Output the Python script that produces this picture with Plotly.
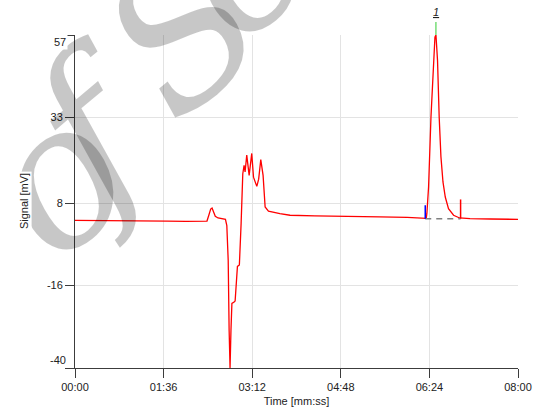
import plotly.graph_objects as go

# ---- data ----
time_s = [0, 20, 40, 60, 80, 100, 120, 135, 143, 145, 147, 148.5, 150, 152, 155, 160, 163,
          164.5, 166, 167, 168, 169, 170, 172.4, 173.5, 176, 178.1, 180, 181.8, 183.2, 184.3,
          186.1, 188.7, 191.5, 193.4, 197, 199, 201.3, 203.8, 206, 209.6, 222, 233, 260, 290,
          330, 360, 378, 380.6, 381.3, 383.1, 385.7, 387.9, 390.0, 391.1, 392.8, 394.6, 396.5,
          398.7, 401.2, 404.7, 410.2, 416.7, 428, 450, 480]
signal_mv = [3.0, 3.0, 2.9, 3.0, 2.9, 2.8, 2.7, 2.8, 2.8, 4.5, 6.3, 6.6, 5.5, 4.2, 3.7, 3.5, 3.3,
             1.5, -8.6, -29, -40, -29, -21.2, -20.8, -20.5, -10.4, -10.0, 2.2, 16.6, 19.0, 17.1,
             22.0, 16.1, 22.5, 15.6, 12.9, 15.0, 20.7, 16.1, 6.9, 5.7, 5.0, 4.5, 4.3, 4.1,
             4.0, 3.9, 3.8, 3.6, 5.1, 12.7, 33.1, 47.7, 56.4, 57.0, 49.6, 33.1, 21.5,
             14.2, 9.8, 6.4, 4.5, 3.7, 3.5, 3.4, 3.3]

peak_label = "1"
peak_time = 391.1
peak_start = 379.5
peak_end = 417.8
baseline_level = 3.5
start_mark_top = 7.4
end_mark_top = 9.1

x_tickvals = [0, 96, 192, 288, 384, 480]
x_ticktext = ["00:00", "01:36", "03:12", "04:48", "06:24", "08:00"]
y_tickvals = [-40, -16, 8, 33, 57]
y_ticktext = ["-40", "-16", "8", "33", "57"]

# watermark letters and their (paper) positions
wm_letters = ["o", "f", "S", "c"]
wm_x = [-0.045, 0.043, 0.244, 0.363]
wm_y = [0.569, 0.720, 1.011, 1.218]

AX = "#3c3c3c"
GRID = "#e3e3e3"
FONT = "Liberation Sans"

fig = go.Figure()
fig.add_trace(go.Scatter(x=time_s, y=signal_mv, mode="lines",
                         line=dict(color="#ff0000", width=1.3), hoverinfo="skip"))
# integration baseline
fig.add_trace(go.Scatter(x=[peak_start, peak_end], y=[baseline_level, baseline_level], mode="lines",
                         line=dict(color="#808080", width=1.5, dash="6px,5px"), hoverinfo="skip"))
# peak start / end markers
fig.add_trace(go.Scatter(x=[peak_start, peak_start], y=[baseline_level, start_mark_top], mode="lines",
                         line=dict(color="#0000ff", width=1.5), hoverinfo="skip"))
fig.add_trace(go.Scatter(x=[peak_end, peak_end], y=[baseline_level, end_mark_top], mode="lines",
                         line=dict(color="#ff0000", width=1.5), hoverinfo="skip"))

# peak apex marker
fig.add_shape(type="line", xref="x", yref="paper", x0=peak_time, x1=peak_time, y0=1, y1=1.039,
              line=dict(color="#33cc33", width=1))

annotations = []
for ch, wx, wy in zip(wm_letters, wm_x, wm_y):
    annotations.append(dict(
        text=ch, xref="paper", yref="paper", x=wx, y=wy,
        xanchor="center", yanchor="middle", showarrow=False, textangle=-40,
        font=dict(family="DejaVu Serif", size=195, style="italic", weight="normal",
                  color="rgba(0,0,0,0.22)")))

annotations += [
    # y-axis title
    dict(text="Signal [mV]", xref="paper", yref="paper", x=-0.116, y=0.5, textangle=-90,
         xanchor="center", yanchor="middle", showarrow=False, bgcolor="white",
         font=dict(family=FONT, size=11, color="#222")),
    # extreme y tick labels (shifted inwards as in reference)
    dict(text=y_ticktext[-1], xref="paper", yref="y", x=0, y=y_tickvals[-1], xanchor="right",
         yanchor="middle", xshift=-7, yshift=-7, showarrow=False, bgcolor="white",
         font=dict(family=FONT, size=11, color="#222")),
    dict(text=y_ticktext[0], xref="paper", yref="y", x=0, y=y_tickvals[0], xanchor="right",
         yanchor="middle", xshift=-7, yshift=8, showarrow=False,
         font=dict(family=FONT, size=11, color="#222")),
    # peak label
    dict(text="<u><i>" + peak_label + "</i></u>", xref="x", yref="paper", x=peak_time, y=1,
         xanchor="center", yanchor="bottom", yshift=15, showarrow=False,
         font=dict(family=FONT, size=11, color="#222")),
]

fig.update_layout(
    width=535, height=410,
    margin=dict(l=75, r=17, t=35, b=42),
    paper_bgcolor="white", plot_bgcolor="white",
    showlegend=False,
    annotations=annotations,
    xaxis=dict(range=[0, 480], tickvals=x_tickvals, ticktext=x_ticktext,
               showgrid=True, gridcolor=GRID, gridwidth=1, zeroline=False,
               showline=True, linecolor=AX, linewidth=1,
               ticks="outside", ticklen=9, tickcolor=AX, tickwidth=1,
               tickfont=dict(family=FONT, size=11, color="#222"),
               title=dict(text="Time [mm:ss]", font=dict(family=FONT, size=11, color="#222"), standoff=5),
               automargin=False, fixedrange=True),
    yaxis=dict(range=[-40, 57], tickvals=y_tickvals,
               ticktext=[""] + y_ticktext[1:-1] + [""],
               showgrid=True, gridcolor=GRID, gridwidth=1, zeroline=False,
               showline=True, linecolor=AX, linewidth=1,
               ticks="outside", ticklen=9, tickcolor=AX, tickwidth=1,
               tickfont=dict(family=FONT, size=11, color="#222"),
               automargin=False, fixedrange=True),
)

fig.write_html("out.html", config={"displayModeBar": False},
               post_script="document.body.style.margin='0';document.body.style.overflow='hidden';")
